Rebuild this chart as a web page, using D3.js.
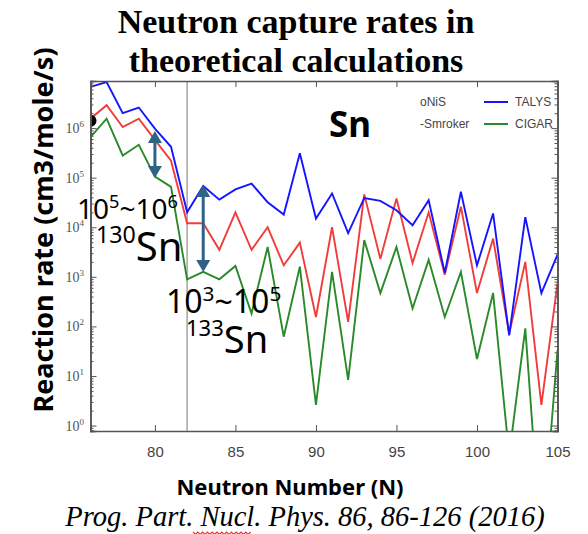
<!DOCTYPE html>
<html><head><meta charset="utf-8">
<script src="https://cdn.jsdelivr.net/npm/d3@7"></script>
<style>body{margin:0;background:#fff}svg{display:block}</style>
</head><body>
<script>
// ---- data ----
const neutrons = [76,77,78,79,80,81,82,83,84,85,86,87,88,89,90,91,92,93,94,95,96,97,98,99,100,101,102,103,104,105];
const talys  = [6.8e6,8.5e6,2.0e6,2.6e6,9.8e5,4.2e5,2.0e4,6.8e4,3.6e4,5.8e4,7.6e4,3.2e4,1.8e4,3.1e5,1.5e4,4.8e4,7.6e3,3.9e4,3.4e4,2.2e4,1.1e4,3.5e4,1.2e3,5.2e4,1.7e3,1.9e4,66,1.6e4,470,2.8e3];
const smoker = [1.55e6,2.9e6,1.05e6,1.55e6,5.8e5,2.2e5,1.2e4,1.2e4,3.5e3,2.0e4,3.5e3,1.0e4,1.7e3,4.9e3,155,1.0e4,123,4.6e4,2.3e3,3.8e4,1.9e3,2.0e4,1.1e3,2.6e4,470,5.9e3,71,2.0e3,2.6,740];
const cigar  = [6.6e5,1.55e6,2.8e5,4.6e5,1.05e5,6.5e4,890,1.26e3,890,1.66e3,182,4.0e3,62,1.6e3,2.6,1.26e3,8.3,5.5e3,470,4.0e3,230,2.2e3,155,1.26e3,22,470,0.25,91,0.003,33];
const nisPoint = {n:76, v:1.4e6};
const xTicks = [80,85,90,95,100,105];
const yTickExps = [0,1,2,3,4,5,6];
const seriesNames = ["TALYS","CIGAR"];
const legendLeft = ["oNiS","-Smroker"];
const closedShellN = 82;

const W=588,H=534;
const svg=d3.select("body").append("svg").attr("width",W).attr("height",H);

const x=d3.scaleLinear().domain([76,105]).range([90.5,557.5]);
const y=d3.scaleLog().domain([Math.pow(10,-0.11),Math.pow(10,6.95)]).range([431,81]);

// title
const title=svg.append("text").attr("text-anchor","middle")
  .style("font-family","'Liberation Serif','DejaVu Serif',serif").style("font-weight","bold").style("font-size","34px").attr("fill","#000");
title.append("tspan").attr("x",296).attr("y",33).text("Neutron capture rates in");
title.append("tspan").attr("x",296).attr("y",72).text("theoretical calculations");

// clip
svg.append("clipPath").attr("id","clip").append("rect")
  .attr("x",x.range()[0]).attr("y",y.range()[1]).attr("width",x.range()[1]-x.range()[0]).attr("height",y.range()[0]-y.range()[1]);
const plot=svg.append("g").attr("clip-path","url(#clip)");

// vertical line N=82
plot.append("line").attr("x1",x(closedShellN)).attr("x2",x(closedShellN)).attr("y1",y.range()[1]).attr("y2",y.range()[0])
  .attr("stroke","#aaaaaa").attr("stroke-width",1.6);

const line=d3.line().x((d,i)=>x(neutrons[i])).y(d=>y(d));
const series=[{v:cigar,c:"#2a8a2a"},{v:smoker,c:"#f23c3c"},{v:talys,c:"#1515ff"}];
series.forEach(s=>{
  plot.append("path").attr("d",line(s.v)).attr("fill","none").attr("stroke",s.c).attr("stroke-width",1.9).attr("stroke-linejoin","miter");
});
plot.append("circle").attr("cx",x(nisPoint.n)).attr("cy",y(nisPoint.v)).attr("r",6).attr("fill","#000");

// axes frame
const axisCol="#555";
const gx=svg.append("g").attr("transform",`translate(0,${y.range()[0]})`)
  .call(d3.axisBottom(x).tickValues(xTicks).tickSize(-6).tickPadding(15).tickFormat(d3.format("d")));
svg.append("g").attr("transform",`translate(0,${y.range()[1]})`)
  .call(d3.axisTop(x).tickValues(xTicks).tickSize(-6).tickFormat(""));
const majors=yTickExps.map(e=>Math.pow(10,e));
const minors=[];
for(let e=-1;e<=6;e++){[2,3,4,5,6,7,8,9].forEach(m=>{const v=m*Math.pow(10,e);if(v>=y.domain()[0]&&v<=y.domain()[1])minors.push(v);});}
svg.append("g").attr("transform",`translate(${x.range()[0]},0)`)
  .call(d3.axisLeft(y).tickValues(majors).tickSize(-6).tickFormat(""));
svg.append("g").attr("transform",`translate(${x.range()[0]},0)`)
  .call(d3.axisLeft(y).tickValues(minors).tickSize(-3).tickFormat(""));
svg.append("g").attr("transform",`translate(${x.range()[1]},0)`)
  .call(d3.axisRight(y).tickValues(majors).tickSize(-6).tickFormat(""));
svg.append("g").attr("transform",`translate(${x.range()[1]},0)`)
  .call(d3.axisRight(y).tickValues(minors).tickSize(-3).tickFormat(""));
svg.selectAll(".domain").attr("stroke",axisCol).attr("stroke-width",1.6);
svg.selectAll(".tick line").attr("stroke",axisCol).attr("stroke-width",1);
gx.selectAll("text").style("font-family","'Liberation Sans Narrow','Liberation Sans',sans-serif").style("font-size","15px").attr("fill","#444");

// y tick labels 10^n
yTickExps.forEach(e=>{
  const t=svg.append("text").attr("x",84).attr("y",y(Math.pow(10,e))+5).attr("text-anchor","end")
    .style("font-family","'Liberation Serif','DejaVu Serif',serif").style("font-size","14px").attr("fill","#555");
  t.append("tspan").text("10");
  t.append("tspan").attr("dy",-6).style("font-size","9px").text(e);
});

// legend
const lg=svg.append("g").style("font-family","'Liberation Sans Narrow','Liberation Sans',sans-serif").style("font-size","12px");
legendLeft.forEach((t,i)=>lg.append("text").attr("x",420).attr("y",106+i*22).attr("fill","#444").text(t));
[["#1515ff",0],["#2a8a2a",1]].forEach(([c,i])=>{
  lg.append("line").attr("x1",484).attr("x2",508).attr("y1",102+i*22).attr("y2",102+i*22).attr("stroke",c).attr("stroke-width",2);
  lg.append("text").attr("x",515).attr("y",106+i*22).attr("fill","#444").text(seriesNames[i]);
});

// Sn label
svg.append("text").attr("x",350).attr("y",137).attr("text-anchor","middle")
  .style("font-family","'Noto Sans','DejaVu Sans',sans-serif").style("font-weight","bold").style("font-size","35px").text("Sn");

// arrows
const arrowCol="#2e6385";
function dArrow(xp,y1,y2){
  const g=svg.append("g");
  g.append("line").attr("x1",xp).attr("x2",xp).attr("y1",y1+8).attr("y2",y2-8).attr("stroke",arrowCol).attr("stroke-width",3);
  g.append("path").attr("d",`M${xp},${y1} L${xp-7},${y1+12} L${xp+7},${y1+12}Z`).attr("fill",arrowCol);
  g.append("path").attr("d",`M${xp},${y2} L${xp-7},${y2-12} L${xp+7},${y2-12}Z`).attr("fill",arrowCol);
}
dArrow(x(80),131,178);
dArrow(x(83),185,272);

// annotation texts
const af="'Noto Sans','DejaVu Sans',sans-serif";
function rangeText(xp,yp,fs,a,b){
  const sup=fs*0.65, up=fs*0.38;
  const t=svg.append("text").attr("x",xp).attr("y",yp).style("font-family",af).style("font-size",fs+"px").attr("fill","#000");
  t.append("tspan").text("10");
  t.append("tspan").attr("dy",-up).style("font-size",sup+"px").text(a);
  t.append("tspan").attr("dy",up).text("~10");
  t.append("tspan").attr("dy",-up).style("font-size",sup+"px").text(b);
}
function isoText(xp,yp,fs,mass){
  const t=svg.append("text").attr("x",xp).attr("y",yp).style("font-family",af).attr("fill","#000");
  t.append("tspan").attr("dy",-fs*0.45).style("font-size",(fs*0.58)+"px").text(mass);
  t.append("tspan").attr("dy",fs*0.45).style("font-size",fs+"px").text("Sn");
}
rangeText(77,219,28,"5","6");
isoText(96,261,40,"130");
rangeText(166,313,32,"3","5");
isoText(186,353,38,"133");

// axis titles
svg.append("text").attr("transform","translate(53,230) rotate(-90)").attr("text-anchor","middle")
  .style("font-family",af).style("font-weight","bold").style("font-size","27px").text("Reaction rate (cm3/mole/s)");
svg.append("text").attr("x",290).attr("y",495).attr("text-anchor","middle")
  .style("font-family",af).style("font-weight","bold").style("font-size","22px").text("Neutron Number (N)");
svg.append("text").attr("x",305).attr("y",526).attr("text-anchor","middle")
  .style("font-family","'Liberation Serif','DejaVu Serif',serif").style("font-style","italic").style("font-size","28.5px").text("Prog. Part. Nucl. Phys. 86, 86-126 (2016)");
// spell-check squiggle
let sq="M193,532";for(let i=0;i<24;i++){sq+=` l2.4,${i%2?-2.5:2.5}`;}
svg.append("path").attr("d",sq).attr("fill","none").attr("stroke","#e03030").attr("stroke-width",1.2);
</script>
</body></html>
